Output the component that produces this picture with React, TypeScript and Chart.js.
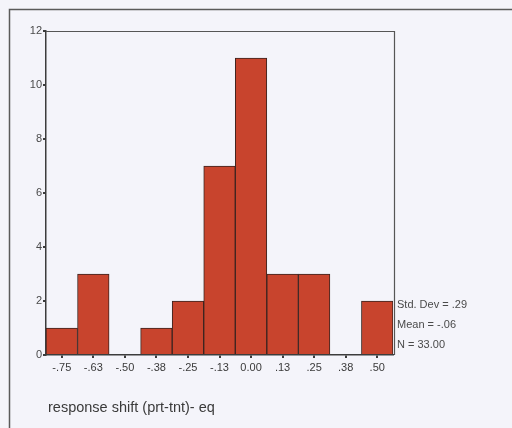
import React, { useEffect, useRef } from "react";
import { Chart, registerables } from "chart.js";

Chart.register(...registerables);

const binLabels = ["-.75", "-.63", "-.50", "-.38", "-.25", "-.13", "0.00", ".13", ".25", ".38", ".50"];
const frequencies = [1, 3, 0, 1, 2, 7, 11, 3, 3, 0, 2];
const yTicks = [0, 2, 4, 6, 8, 10, 12];
const statsLines = ["Std. Dev = .29", "Mean = -.06", "N = 33.00"];
const axisTitle = "response shift (prt-tnt)- eq";

const BG = "#f4f4fa";
const BAR = "#c8442d";
const INK = "#3c3c3c";
const FONT = "Arial, 'Liberation Sans', sans-serif";

const framePlugin = {
  id: "spssFrame",
  beforeDraw(chart: any) {
    const { ctx, width, height } = chart;
    ctx.save();
    ctx.fillStyle = BG;
    ctx.fillRect(0, 0, width, height);
    ctx.restore();
  },
  afterDraw(chart: any) {
    const { ctx, chartArea } = chart;
    const { left, top, right, bottom } = chartArea;
    ctx.save();
    // outer page frame
    ctx.strokeStyle = "#5a5a5a";
    ctx.lineWidth = 1.5;
    ctx.beginPath();
    ctx.moveTo(9.5, 440);
    ctx.lineTo(9.5, 9.5);
    ctx.lineTo(520, 9.5);
    ctx.stroke();
    // plot frame top & right
    ctx.strokeStyle = "#555";
    ctx.lineWidth = 1.2;
    ctx.beginPath();
    ctx.moveTo(left, top + 0.5);
    ctx.lineTo(right + 1.5, top + 0.5);
    ctx.lineTo(right + 1.5, bottom);
    ctx.stroke();
    // stats text
    ctx.fillStyle = "#4a4a4a";
    ctx.font = `11px ${FONT}`;
    ctx.textBaseline = "middle";
    ctx.textAlign = "left";
    const yScale = chart.scales.y;
    statsLines.forEach((s, i) => {
      const y = yScale.getPixelForValue(2) + 4 + i * 20;
      ctx.fillText(s, right + 4, y);
    });
    // axis title
    ctx.fillStyle = "#3a3a3a";
    ctx.font = `14.5px ${FONT}`;
    ctx.fillText(axisTitle, 48, 408);
    ctx.restore();
  },
};

export default function App() {
  const ref = useRef<HTMLCanvasElement>(null);
  useEffect(() => {
    if (!ref.current) return;
    const chart = new Chart(ref.current, {
      type: "bar",
      data: {
        labels: binLabels,
        datasets: [
          {
            data: frequencies.map((v) => (v === 0 ? null : v)),
            backgroundColor: BAR,
            borderColor: "#3a2420",
            borderWidth: 1,
            barPercentage: 1,
            categoryPercentage: 1,
          },
        ],
      },
      options: {
        animation: false,
        responsive: false,
        maintainAspectRatio: false,
        layout: { padding: { left: 30, top: 31, right: 119, bottom: 53 } },
        plugins: { legend: { display: false }, tooltip: { enabled: false } },
        scales: {
          x: {
            afterFit: (s: any) => {
              s.height = 20;
            },
            grid: { offset: false, drawOnChartArea: false, drawTicks: true, tickLength: 3, color: INK, lineWidth: 2 },
            border: { display: true, color: INK, width: 1.5 },
            ticks: {
              color: "#3a3a3a",
              font: { family: FONT, size: 11 },
              padding: 3,
              maxRotation: 0,
              autoSkip: false,
            },
          },
          y: {
            min: 0,
            max: 12,
            afterFit: (s: any) => {
              s.width = 16;
            },
            afterBuildTicks: (s: any) => {
              s.ticks = yTicks.map((v) => ({ value: v }));
            },
            grid: { drawOnChartArea: false, drawTicks: true, tickLength: 3, color: INK, lineWidth: 2 },
            border: { display: true, color: INK, width: 1.5 },
            ticks: {
              color: "#4a4a4a",
              font: { family: FONT, size: 11 },
              padding: 1,
            },
          },
        },
      },
      plugins: [framePlugin],
    });
    return () => chart.destroy();
  }, []);
  return (
    <div style={{ position: "fixed", left: 0, top: 0, width: 512, height: 428 }}>
      <canvas ref={ref} width={512} height={428} style={{ width: 512, height: 428 }} />
    </div>
  );
}
